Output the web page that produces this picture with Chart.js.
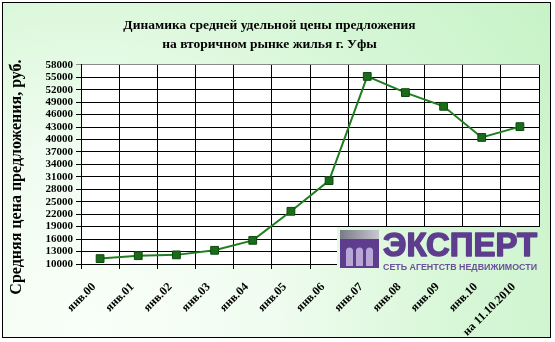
<!DOCTYPE html>
<html>
<head>
<meta charset="utf-8">
<script src="https://cdn.jsdelivr.net/npm/chart.js@4.4.0/dist/chart.umd.min.js"></script>
<style>
html,body{margin:0;padding:0;background:#fff;}
#wrap{width:555px;height:342px;position:relative;}
</style>
</head>
<body>
<div id="wrap"><canvas id="c" width="555" height="342"></canvas></div>
<script>
const titleLines = ['Динамика средней удельной цены предложения', 'на вторичном рынке жилья г. Уфы'];
const yAxisTitle = 'Средняя цена предложения, руб.';
const categories = ['янв.00','янв.01','янв.02','янв.03','янв.04','янв.05','янв.06','янв.07','янв.08','янв.09','янв.10','на 11.10.2010'];
const prices = [11300, 12000, 12200, 13300, 15700, 22700, 30100, 55200, 51300, 48000, 40500, 43100];
const yMin = 10000, yMax = 58000, yStep = 3000;
const logoMain = 'ЭКСПЕРТ';
const logoSub = 'СЕТЬ АГЕНТСТВ НЕДВИЖИМОСТИ';

function bgGradient(ctx){
  const g = ctx.createRadialGradient(90, 330, 0, 90, 330, 600);
  g.addColorStop(0, '#f9fff9');
  g.addColorStop(0.3, '#f0fcf0');
  g.addColorStop(0.6, '#d8f7d8');
  g.addColorStop(1, '#c4f2c4');
  return g;
}

const decorPlugin = {
  id: 'decor',
  beforeDraw(chart){
    const ctx = chart.ctx;
    ctx.save();
    ctx.fillStyle = '#ffffff';
    ctx.fillRect(0,0,chart.width,chart.height);
    ctx.fillStyle = bgGradient(ctx);
    ctx.fillRect(3,3,547,334);
    ctx.strokeStyle = '#000';
    ctx.lineWidth = 1;
    ctx.strokeRect(2.5,2.5,548,335);
    const a = chart.chartArea;
    ctx.fillStyle = '#ffffff';
    ctx.fillRect(a.left, a.top, a.right-a.left, a.bottom-a.top);
    ctx.restore();
  },
  afterDraw(chart){
    const ctx = chart.ctx;
    ctx.save();
    ctx.translate(17, 177);
    ctx.rotate(-Math.PI/2);
    ctx.font = 'bold 16px "Liberation Serif"';
    ctx.fillStyle = '#000';
    ctx.textAlign = 'center';
    ctx.textBaseline = 'middle';
    ctx.fillText(yAxisTitle, 0, 0);
    ctx.restore();

    // logo
    ctx.save();
    ctx.fillStyle = bgGradient(ctx);
    ctx.fillRect(337, 227, 204, 48);
    const rg = ctx.createLinearGradient(340, 0, 379, 0);
    rg.addColorStop(0, '#7a7a8a');
    rg.addColorStop(1, '#c8c8d0');
    ctx.fillStyle = rg;
    ctx.fillRect(340, 230, 39, 9);
    ctx.fillStyle = '#5e3d8f';
    ctx.fillRect(340, 239, 39, 29);
    ctx.fillStyle = '#b9a8d6';
    [346, 356, 366].forEach(x => {
      ctx.beginPath();
      ctx.moveTo(x, 266);
      ctx.lineTo(x, 251);
      ctx.arc(x+3.5, 251, 3.5, Math.PI, 0);
      ctx.lineTo(x+7, 266);
      ctx.closePath();
      ctx.fill();
    });
    ctx.fillStyle = '#5e3d8f';
    ctx.font = '900 33px "Liberation Sans"';
    ctx.textBaseline = 'alphabetic';
    ctx.textAlign = 'left';
    ctx.lineJoin = 'round';
    ctx.strokeStyle = '#5e3d8f';
    ctx.lineWidth = 1.5;
    ctx.strokeText(logoMain, 383, 256, 154);
    ctx.fillText(logoMain, 383, 256, 154);
    ctx.font = 'bold 9px "Liberation Sans"';
    ctx.fillStyle = '#6b4f9c';
    ctx.fillText(logoSub, 383, 270, 154);
    ctx.restore();
  }
};

const ctx = document.getElementById('c').getContext('2d');
new Chart(ctx, {
  type: 'line',
  data: {
    labels: categories,
    datasets: [{
      data: prices,
      borderColor: '#1f7f1f',
      borderWidth: 2,
      tension: 0,
      pointStyle: 'rect',
      pointRadius: 5.5,
      pointBackgroundColor: '#1a6b1a',
      pointBorderColor: '#0e4a0e',
      pointBorderWidth: 1
    }]
  },
  options: {
    responsive: false,
    animation: false,
    devicePixelRatio: 1,
    layout: { padding: { left: 0, right: 16, top: 0, bottom: 0 } },
    plugins: {
      legend: { display: false },
      tooltip: { enabled: false },
      title: {
        display: true,
        text: titleLines,
        color: '#000',
        font: { family: 'Liberation Serif', size: 13.5, weight: 'bold', lineHeight: 1.4 },
        padding: { top: 16, bottom: 11 }
      }
    },
    scales: {
      x: {
        type: 'category',
        offset: true,
        grid: {
          offset: true,
          color: (c) => c.index === categories.length ? '#8a8a8a' : '#000',
          lineWidth: 1,
          tickLength: 5,
          drawTicks: true
        },
        border: { color: '#000', width: 1 },
        ticks: {
          color: '#000',
          font: { family: 'Liberation Serif', size: 12, weight: 'bold' },
          minRotation: 45,
          maxRotation: 45,
          autoSkip: false,
          padding: 11,
          labelOffset: -6
        },
        afterFit(scale){ scale.height = 78; }
      },
      y: {
        min: yMin,
        max: yMax,
        grid: {
          color: (c) => (c.tick && c.tick.value === yMax) ? '#8a8a8a' : '#000',
          lineWidth: 1,
          tickLength: 5
        },
        border: { color: '#000', width: 1 },
        ticks: {
          stepSize: yStep,
          autoSkip: false,
          color: '#000',
          font: { family: 'Liberation Serif', size: 11, weight: 'bold' },
          padding: 3,
          callback: (v) => String(v)
        },
        afterFit(scale){ scale.width = 81; }
      }
    }
  },
  plugins: [decorPlugin]
});
</script>
</body>
</html>
